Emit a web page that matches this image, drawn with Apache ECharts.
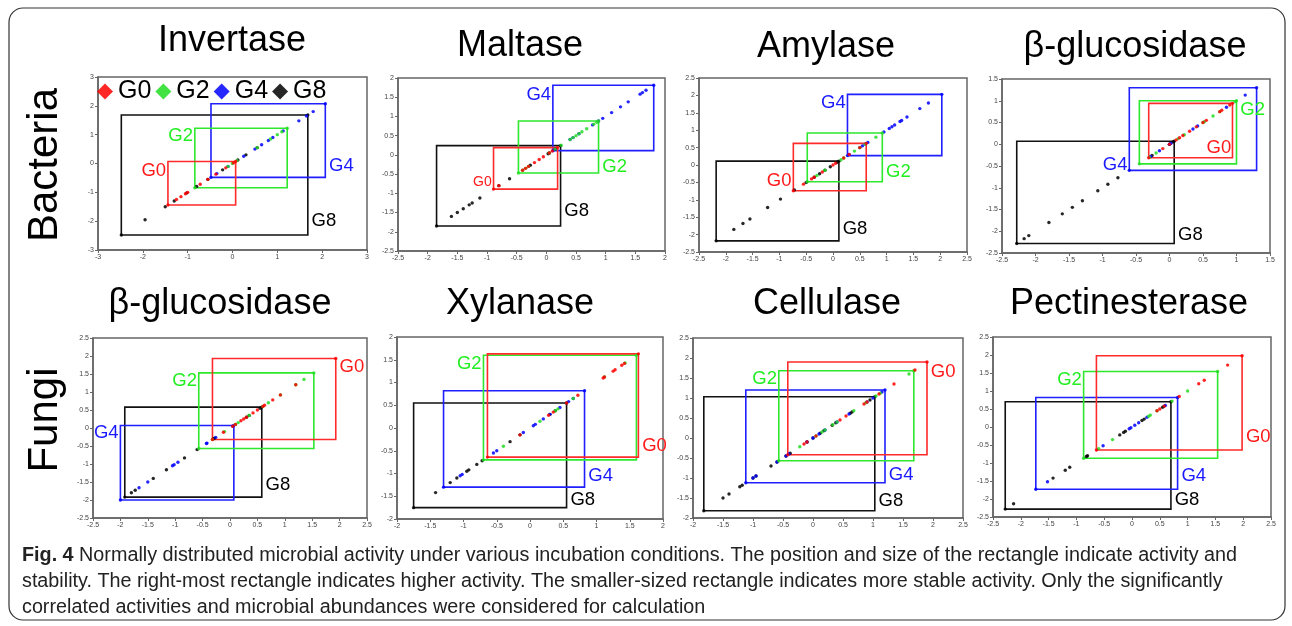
<!DOCTYPE html>
<html><head><meta charset="utf-8">
<script src="https://cdn.jsdelivr.net/npm/echarts@6/dist/echarts.min.js"></script>
<style>html,body{margin:0;padding:0;background:#fff;} #c{width:1292px;height:626px;}</style>
</head><body><div id="c"></div>
<script>
// ---------------- DATA ----------------
const groups = ['G0', 'G2', 'G4', 'G8'];
const panelTitles = ['Invertase', 'Maltase', 'Amylase', 'β-glucosidase', 'β-glucosidase', 'Xylanase', 'Cellulase', 'Pectinesterase'];
const rowLabels = ['Bacteria', 'Fungi'];
const xMin = [-3, -2.5, -2.5, -2.5, -2.5, -2, -2, -2.5];
const xMax = [3, 2, 2.5, 1.5, 2.5, 2, 2.5, 2.5];
const yMin = [-3, -2.5, -2.5, -2.5, -2.5, -2, -2, -2.5];
const yMax = [3, 2, 2.5, 1.5, 2.5, 2, 2.5, 2.5];
const tickStep = [1, 0.5, 0.5, 0.5, 0.5, 0.5, 0.5, 0.5];

// normal-score values (points lie on x = y)
const invertaseG0 = [-1.44, -1.25, -1.15, -1.05, -1.0, -0.72, -0.55, -0.37, -0.15, 0.02, 0.07];
const invertaseG2 = [-0.84, -0.1, 0.0, 0.1, 0.55, 0.85, 1.0, 1.1, 1.22];
const invertaseG4 = [-0.48, -0.35, -0.1, 0.25, 0.5, 0.65, 0.8, 0.9, 1.13, 1.48, 1.65, 1.8, 2.07];
const invertaseG8 = [-2.48, -1.95, -1.5, -1.3, -1.02, -0.8, -0.55, -0.22, 0.12, 0.3, 0.55, 1.68];

const maltaseG0 = [-0.89, -0.8, -0.4, -0.35, -0.3, -0.2, -0.12, -0.05, 0.05, 0.1, 0.19];
const maltaseG2 = [-0.47, -0.4, -0.35, -0.3, 0.05, 0.15, 0.25, 0.4, 0.45, 0.5, 0.55, 0.6, 0.68, 0.8, 0.85, 0.88];
const maltaseG4 = [0.11, 0.15, 0.4, 0.45, 0.55, 0.78, 0.88, 0.95, 1.1, 1.25, 1.38, 1.58, 1.62, 1.68, 1.81];
const maltaseG8 = [-1.85, -1.6, -1.5, -1.4, -1.3, -1.25, -1.12, -0.8, -0.62, -0.27, 0.03, 0.05, 0.15, 0.24];

const amylaseG0 = [-0.74, -0.55, -0.4, -0.35, -0.2, 0.0, 0.05, 0.2, 0.3, 0.5, 0.62];
const amylaseG2 = [-0.48, -0.3, -0.15, 0.15, 0.2, 0.4, 0.5, 0.6, 0.8, 0.92];
const amylaseG4 = [0.27, 0.3, 0.5, 0.55, 0.6, 0.65, 0.95, 1.05, 1.1, 1.15, 1.25, 1.28, 1.38, 1.62, 1.78, 2.03];
const amylaseG8 = [-2.18, -1.85, -1.68, -1.55, -1.22, -0.98, -0.72, -0.5, -0.35, -0.25, -0.15, -0.05, 0.08, 0.11];

const bGlucBacG0 = [-0.31, -0.1, 0.0, 0.1, 0.15, 0.2, 0.3, 0.4, 0.5, 0.55, 0.75, 0.78, 0.9, 0.94];
const bGlucBacG2 = [-0.45, -0.3, -0.2, 0.13, 0.22, 0.5, 0.52, 0.65, 0.75, 0.98, 1.0];
const bGlucBacG4 = [-0.6, -0.28, -0.15, 0.0, 0.02, 0.35, 0.42, 0.85, 1.13, 1.3];
const bGlucBacG8 = [-2.28, -2.17, -2.1, -1.8, -1.6, -1.45, -1.3, -1.07, -0.92, -0.77, -0.26, 0.0, 0.05, 0.07];

const bGlucFunG0 = [-0.32, -0.12, 0.05, 0.1, 0.2, 0.25, 0.3, 0.42, 0.5, 0.6, 0.63, 0.78, 0.92, 1.2, 1.93];
const bGlucFunG2 = [-0.57, -0.32, -0.1, 0.1, 0.15, 0.35, 0.6, 0.7, 0.92, 1.2, 1.35, 1.53];
const bGlucFunG4 = [-2.0, -1.66, -1.5, -1.05, -1.02, -0.95, -0.43, -0.42, -0.26, 0.05, 0.07];
const bGlucFunG8 = [-1.92, -1.8, -1.73, -1.4, -1.16, -0.83, -0.6, -0.3, -0.28, 0.3, 0.35, 0.55, 0.58];

const xylanaseG0 = [-0.64, -0.15, 0.28, 0.35, 0.55, 0.72, 1.1, 1.12, 1.25, 1.28, 1.38, 1.42, 1.63];
const xylanaseG2 = [-0.7, -0.4, 0.15, 0.38, 0.42, 0.65, 1.12, 1.43, 1.6];
const xylanaseG4 = [-1.3, -1.05, -1.02, -0.55, -0.5, -0.1, 0.05, 0.08, 0.2, 0.3, 0.45, 0.58, 0.65, 0.82];
const xylanaseG8 = [-1.75, -1.42, -1.2, -1.1, -0.95, -0.92, -0.8, -0.72, -0.3, -0.15, 0.3, 0.38, 0.55];

const cellulaseG0 = [-0.42, -0.15, -0.1, 0.05, 0.45, 0.55, 0.85, 0.9, 1.1, 1.35, 1.7, 1.9];
const cellulaseG2 = [-0.57, -0.22, 0.05, 0.15, 0.2, 0.33, 0.4, 0.68, 0.88, 1.05, 1.12, 1.6, 1.68];
const cellulaseG4 = [-1.12, -1.0, -0.95, -0.6, -0.45, -0.4, -0.1, 0.0, 0.1, 0.2, 0.4, 0.6, 0.9, 1.0, 1.15, 1.2];
const cellulaseG8 = [-1.82, -1.5, -1.4, -1.22, -1.18, -1.0, -0.95, -0.7, -0.6, -0.45, -0.38, -0.1, 0.0, 0.12, 0.18, 0.32, 0.38, 0.62, 0.65, 0.95, 1.03];

const pectinG0 = [-0.64, 0.45, 0.5, 0.58, 0.85, 1.2, 1.3, 1.72, 1.98];
const pectinG2 = [-0.87, -0.6, -0.35, 0.3, 0.33, 0.45, 0.72, 1.0, 1.54];
const pectinG4 = [-1.73, -1.52, -0.52, -0.05, -0.02, 0.05, 0.12, 0.27, 0.6, 0.82];
const pectinG8 = [-2.28, -2.13, -1.42, -1.2, -1.12, -0.82, -0.8, -0.22, -0.15, -0.12, 0.18, 0.22, 0.55, 0.58, 0.7];

const captionLines = [
  'Normally distributed microbial activity under various incubation conditions. The position and size of the rectangle indicate activity and',
  'stability. The right-most rectangle indicates higher activity. The smaller-sized rectangle indicates more stable activity. Only the significantly',
  'correlated activities and microbial abundances were considered for calculation'
];
const captionLead = 'Fig. 4';

// ---------------- LAYOUT / STYLE ----------------
const panelValues = [
  [invertaseG0, invertaseG2, invertaseG4, invertaseG8],
  [maltaseG0, maltaseG2, maltaseG4, maltaseG8],
  [amylaseG0, amylaseG2, amylaseG4, amylaseG8],
  [bGlucBacG0, bGlucBacG2, bGlucBacG4, bGlucBacG8],
  [bGlucFunG0, bGlucFunG2, bGlucFunG4, bGlucFunG8],
  [xylanaseG0, xylanaseG2, xylanaseG4, xylanaseG8],
  [cellulaseG0, cellulaseG2, cellulaseG4, cellulaseG8],
  [pectinG0, pectinG2, pectinG4, pectinG8]
];
const grids = [
  {left: 98, top: 77, width: 269, height: 173},
  {left: 398, top: 78, width: 267, height: 173},
  {left: 699, top: 78, width: 268, height: 174},
  {left: 1002, top: 79, width: 268, height: 174},
  {left: 93, top: 338, width: 274, height: 180},
  {left: 397, top: 337, width: 266, height: 182},
  {left: 693, top: 338, width: 270, height: 180},
  {left: 993, top: 337, width: 278, height: 180}
];
const titlePos = [[232, 41], [520, 46], [826, 47], [1135, 47], [220, 304], [520, 304], [827, 304], [1129, 304]];
const pointColors = ['#ff0000', '#22dd22', '#0000ff', '#000000'];
const rectColors = ['#ff2a2a', '#2ee82e', '#1f1fff', '#111111'];
const labelColors = ['#ff1a1a', '#22ee22', '#1a1aff', '#000000'];
// [mode, dy, fontSize] per group per panel
const labelSpec = [
  [['lt', 1], ['lt', -1], ['rb', -3], ['rb', -5]],
  [['lb', -1, 14], ['rb', 3], ['lt', 1], ['rb', -6]],
  [['lb', -1], ['rb', -1], ['lt', 0], ['rb', -3]],
  [['ibr', -1], ['rt', 0], ['lb', 3], ['rb', 0]],
  [['rt', 0], ['lt', -1], ['lt', -1], ['rb', -4]],
  [['rb', -3], ['lt', 0], ['rb', -3], ['rb', 1]],
  [['rt', 1], ['lt', -1], ['rb', 1], ['rb', -1]],
  [['rb', -4], ['lt', 0], ['rb', -5], ['rb', 0]]
];

function labelCfg(spec, color) {
  const mode = spec[0], dy = spec[1], size = spec[2] || 18.5;
  const base = {
    lt: {position: ['0%', '0%'], align: 'right', verticalAlign: 'top', dx: -1},
    lb: {position: ['0%', '100%'], align: 'right', verticalAlign: 'bottom', dx: -1},
    rt: {position: ['100%', '0%'], align: 'left', verticalAlign: 'top', dx: 3},
    rb: {position: ['100%', '100%'], align: 'left', verticalAlign: 'bottom', dx: 3},
    ibr: {position: ['100%', '100%'], align: 'right', verticalAlign: 'bottom', dx: -2}
  }[mode];
  return {
    show: true, position: base.position, align: base.align, verticalAlign: base.verticalAlign,
    offset: [base.dx, dy], color: color, fontSize: size, fontFamily: 'Liberation Sans, Arial, sans-serif',
    formatter: p => p.name
  };
}

const xAxes = [], yAxes = [], series = [];
const axisCommon = {
  type: 'value',
  axisLine: {show: true, onZero: false, lineStyle: {color: '#666', width: 1.5}},
  axisTick: {show: true, length: 3, lineStyle: {color: '#666'}},
  splitLine: {show: false},
  axisLabel: {fontSize: 7, color: '#444', margin: 4, fontFamily: 'Liberation Sans, Arial, sans-serif'}
};
for (let i = 0; i < 8; i++) {
  xAxes.push(Object.assign({}, axisCommon, {gridIndex: i, min: xMin[i], max: xMax[i], interval: tickStep[i]}));
  yAxes.push(Object.assign({}, axisCommon, {gridIndex: i, min: yMin[i], max: yMax[i], interval: tickStep[i]}));
  for (let g = 3; g >= 0; g--) {
    const vals = panelValues[i][g];
    const lo = Math.min(...vals), hi = Math.max(...vals);
    series.push({
      type: 'scatter', name: groups[g], xAxisIndex: i, yAxisIndex: i,
      symbol: 'circle', symbolSize: 3.4,
      itemStyle: {color: pointColors[g], opacity: 0.85},
      data: vals.map(v => [v, v]),
      silent: true,
      markArea: {
        silent: true,
        itemStyle: {color: 'rgba(0,0,0,0)', borderColor: rectColors[g], borderWidth: 1.6},
        label: labelCfg(labelSpec[i][g], labelColors[g]),
        emphasis: {disabled: true},
        data: [[{name: groups[g], coord: [lo, lo]}, {coord: [hi, hi]}]]
      }
    });
  }
}

const graphics = [];
graphics.push({type: 'rect', shape: {x: 9, y: 8, width: 1276, height: 612, r: 14}, style: {fill: 'none', stroke: '#333', lineWidth: 1.2}, silent: true});
panelTitles.forEach((t, i) => {
  graphics.push({type: 'text', x: titlePos[i][0], y: titlePos[i][1], silent: true,
    style: {text: t, align: 'center', verticalAlign: 'middle', font: '36px "Liberation Sans", Arial, sans-serif', fill: '#000'}});
});
const rowY = [165, 420];
rowLabels.forEach((t, i) => {
  graphics.push({type: 'text', x: 45, y: rowY[i], rotation: Math.PI / 2, silent: true,
    style: {text: t, align: 'center', verticalAlign: 'middle', font: '42px "Liberation Sans", Arial, sans-serif', fill: '#000'}});
});
// caption (horizontally condensed to emulate the narrow journal font)
const capFont = '20px "Liberation Sans", Arial, sans-serif';
const capBold = 'bold 20px "Liberation Sans", Arial, sans-serif';
const cv = document.createElement('canvas').getContext('2d');
cv.font = capBold; const leadW = cv.measureText(captionLead).width;
cv.font = capFont; const l1W = cv.measureText(' ' + captionLines[0]).width;
const sx = (1237 - 22) / (leadW + l1W);
const capY = [555, 581, 607];
captionLines.forEach((line, i) => {
  graphics.push({type: 'text', x: 22, y: capY[i], scaleX: sx, silent: true,
    style: {
      text: (i === 0 ? '{b|' + captionLead + '} ' : '') + line,
      font: capFont, fill: '#222', verticalAlign: 'middle', align: 'left',
      rich: {b: {font: capBold, fill: '#222', fontWeight: 'bold', fontSize: 20}}
    }});
});

const chart = echarts.init(document.getElementById('c'), null, {renderer: 'canvas'});
chart.setOption({
  animation: false,
  backgroundColor: '#fff',
  grid: grids.map(g => Object.assign({show: true, borderColor: '#666', borderWidth: 1.5, backgroundColor: '#fff', containLabel: false}, g)),
  xAxis: xAxes,
  yAxis: yAxes,
  legend: {
    data: groups, left: 97, top: 79, icon: 'diamond', itemWidth: 16, itemHeight: 16, itemGap: 4,
    padding: 0, selectedMode: false,
    textStyle: {fontSize: 25, color: '#000', fontFamily: 'Liberation Sans, Arial, sans-serif'}
  },
  series: series,
  graphic: graphics
});
</script></body></html>
